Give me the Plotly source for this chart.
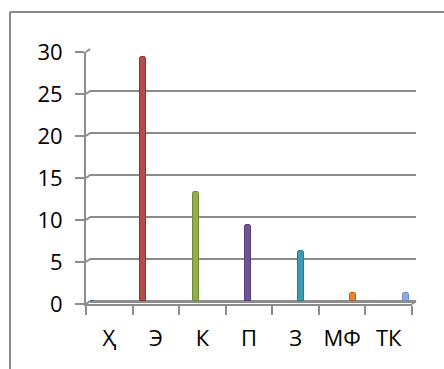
import plotly.graph_objects as go

# Survey counts per category
categories = ["Ҳ", "Э", "К", "П", "З", "МФ", "ТК"]
counts = [0, 29, 13, 9, 6, 1, 1]
bar_colors = ["#4F81BD", "#B84A47", "#8FB04A", "#6E5596", "#3A9DB5", "#E8822F", "#8FAADC"]
edge_colors = ["#3B6290", "#8E3533", "#6E8A35", "#544074", "#2B7A8D", "#B8611F", "#6F8AB8"]
y_ticks = [0, 5, 10, 15, 20, 25, 30]

W, H = 444, 369
L, R, T, B = 86, 28, 49, 65          # plot area 86..416 x 49..304
PW, PH = W - L - R, H - T - B
DX, DY = 4, 3                        # depth offset of the back wall (px)

front_x = [0, 1 - DX / PW]
front_y = [0, 1 - DY / PH]
back_x = [DX / PW, 1]
back_y = [DY / PH, 1]

grid = "#8C8C8C"
fig = go.Figure()

# bars sit in the depth of the chart, on the back-wall axes
fig.add_trace(go.Bar(
    x=list(range(len(categories))), y=counts,
    xaxis="x2", yaxis="y2",
    width=0.115,
    marker=dict(color=bar_colors, line=dict(color=edge_colors, width=1), cornerradius=2),
    showlegend=False, hoverinfo="skip",
))
# invisible trace carrying the category axis
fig.add_trace(go.Scatter(x=categories, y=counts, mode="markers",
                         marker=dict(opacity=0), showlegend=False, hoverinfo="skip"))

font = dict(family="Open Sans", size=22, color="#000000")
fig.update_layout(
    width=W, height=H,
    margin=dict(l=L, r=R, t=T, b=B, pad=0, autoexpand=False),
    paper_bgcolor="white", plot_bgcolor="rgba(0,0,0,0)",
    font=font,
    xaxis=dict(domain=front_x, type="category", categoryorder="array", categoryarray=categories,
               range=[-0.5, len(categories) - 0.5], showgrid=False, zeroline=False,
               showline=True, linecolor=grid, linewidth=2,
               ticks="outside", tickson="boundaries", ticklen=9, tickwidth=2, tickcolor=grid,
               tickfont=font, tickangle=0, ticklabelstandoff=14, automargin=False,
               anchor="y", fixedrange=True),
    yaxis=dict(domain=front_y, range=[0, 30], tickvals=y_ticks, showgrid=False, zeroline=False,
               showline=True, linecolor=grid, linewidth=2,
               ticks="outside", ticklen=9, tickwidth=2, tickcolor=grid,
               tickfont=font, ticklabelstandoff=8, automargin=False,
               anchor="x", fixedrange=True),
    xaxis2=dict(domain=back_x, range=[-0.01, 6.19], anchor="y2",
                visible=False, automargin=False, fixedrange=True),
    yaxis2=dict(domain=back_y, range=[0, 30], tickvals=y_ticks, anchor="x2",
                showgrid=True, gridcolor=grid, gridwidth=2,
                zeroline=True, zerolinecolor=grid, zerolinewidth=3,
                showticklabels=False, ticks="", showline=False, automargin=False,
                fixedrange=True),
    bargap=0,
)

shapes = []
# depth connectors from the front ticks to the back-wall gridlines
for v in y_ticks:
    fy = front_y[0] + v / 30 * (front_y[1] - front_y[0])
    by = back_y[0] + v / 30 * (back_y[1] - back_y[0])
    shapes.append(dict(type="line", xref="paper", yref="paper", x0=0, y0=fy, x1=back_x[0], y1=by,
                       line=dict(color=grid, width=2)))
shapes.append(dict(type="line", xref="paper", yref="paper", x0=front_x[1], y0=0, x1=1, y1=back_y[0],
                   line=dict(color=grid, width=2)))
# outer chart frame (left and top edges)
fx = (10 - L) / PW
fy_top = (H - B - 12) / PH
shapes.append(dict(type="line", xref="paper", yref="paper", x0=fx, y0=fy_top, x1=fx, y1=-B / PH - 0.05,
                   line=dict(color="#8A8A8A", width=2)))
shapes.append(dict(type="line", xref="paper", yref="paper", x0=fx, y0=fy_top, x1=(W - L) / PW + 0.05, y1=fy_top,
                   line=dict(color="#8A8A8A", width=2)))
fig.update_layout(shapes=shapes)

fig.write_html("out.html")
